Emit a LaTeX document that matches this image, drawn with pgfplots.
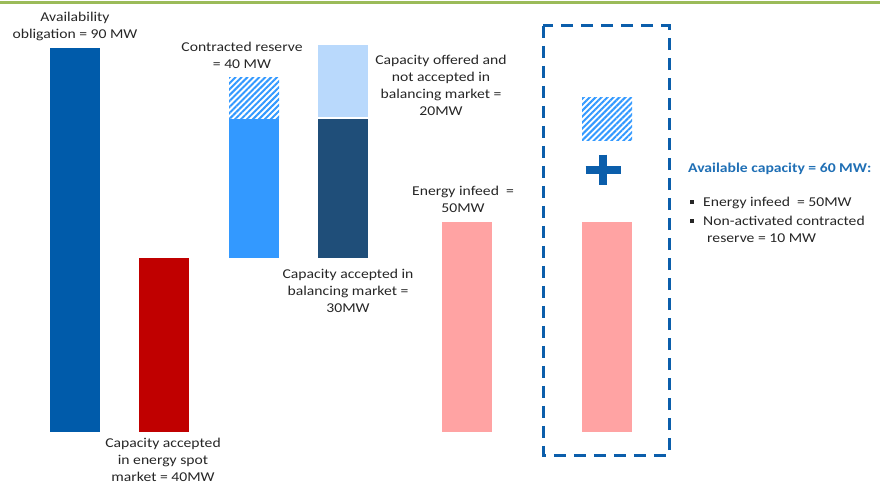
\documentclass[border=0pt]{standalone}
\usepackage{pgfplots}
\pgfplotsset{compat=1.18}
\usetikzlibrary{patterns.meta}
\usepackage{fontspec}
\setmainfont{Carlito}[FakeStretch=1.16]
\definecolor{obl}{HTML}{005BAA}
\definecolor{spot}{HTML}{C00000}
\definecolor{resblue}{HTML}{3399FF}
\definecolor{offlight}{HTML}{B9D9FC}
\definecolor{accdark}{HTML}{1F4E79}
\definecolor{infeed}{HTML}{FFA3A3}
\definecolor{boxblue}{HTML}{0B5EAB}
\definecolor{txtblue}{HTML}{1F6FB5}
\definecolor{topgreen}{HTML}{9BBB59}
\definecolor{txt}{HTML}{262626}
\tikzset{
  hatch/.style={pattern={Lines[angle=45,distance=4.2pt,line width=2pt]}, pattern color=resblue},
  lbl/.style={font=\fontsize{13.5}{17}\selectfont, text=txt, align=center, inner sep=0pt},
}
\begin{document}
\begin{tikzpicture}
\begin{axis}[
  width=880pt, height=485pt, scale only axis,
  xmin=0, xmax=880, ymin=-12.42, ymax=101.25,
  hide axis, clip=false,
  every axis plot/.append style={draw=none, mark=none},
]
% top green rule
\fill[topgreen] (axis cs:0,101.0) rectangle (axis cs:880,100.2);
% Availability obligation = 90 MW
\addplot[fill=obl] coordinates {(50,0) (100,0) (100,90) (50,90)};
% Capacity accepted in energy spot market = 40 MW
\addplot[fill=spot] coordinates {(139,0) (189,0) (189,40.8) (139,40.8)};
% Contracted reserve = 40 MW (solid part + non-activated hatched part)
\addplot[fill=resblue] coordinates {(229,40.8) (279,40.8) (279,73.4) (229,73.4)};
\addplot[hatch] coordinates {(229,73.4) (279,73.4) (279,83.2) (229,83.2)};
% Capacity accepted in balancing market = 30 MW
\addplot[fill=accdark] coordinates {(318,40.8) (368,40.8) (368,73.4) (318,73.4)};
% Capacity offered and not accepted = 20 MW
\addplot[fill=offlight] coordinates {(318,73.8) (368,73.8) (368,90.7) (318,90.7)};
% Energy infeed = 50 MW
\addplot[fill=infeed] coordinates {(442,0) (492,0) (492,49.2) (442,49.2)};
% Available capacity: hatched reserve + energy infeed
\addplot[hatch] coordinates {(582,68.4) (632,68.4) (632,78.3) (582,78.3)};
\addplot[fill=infeed] coordinates {(582,0) (632,0) (632,49.2) (582,49.2)};
% plus sign
\draw[boxblue, line width=8pt] (axis cs:585.5,61.41) -- (axis cs:620.5,61.41);
\draw[boxblue, line width=8pt] (axis cs:603,65.0) -- (axis cs:603,57.8);
% dashed box
\draw[boxblue, line width=3pt, dash pattern=on 12pt off 8pt] (axis cs:543,95.16) rectangle (axis cs:669,-5.39);
% labels
\node[lbl] at (axis cs:75,95.16) {Availability\\obligation = 90 MW};
\node[lbl] at (axis cs:242,88.36) {Contracted reserve\\= 40 MW};
\node[lbl] at (axis cs:441,81.33) {Capacity offered and\\not accepted in\\balancing market =\\20MW};
\node[lbl] at (axis cs:348,33.05) {Capacity accepted in\\balancing market =\\30MW};
\node[lbl] at (axis cs:463,54.49) {Energy infeed~~=\\50MW};
\node[lbl] at (axis cs:163,-6.45) {Capacity accepted\\in energy spot\\market = 40MW};
\node[lbl, anchor=west, text=txtblue, font=\fontsize{13.5}{17}\selectfont\bfseries] at (axis cs:688,61.64) {Available capacity = 60 MW:};
\node[lbl, anchor=west] at (axis cs:690,53.67) {\rule[2.5pt]{4pt}{4pt}\hspace{9pt}Energy infeed~~= 50MW};
\node[lbl, anchor=west] at (axis cs:690,49.45) {\rule[2.5pt]{4pt}{4pt}\hspace{9pt}Non-activated contracted};
\node[lbl, anchor=west] at (axis cs:707,45.47) {reserve = 10 MW};
\end{axis}
\pgfresetboundingbox
\path[use as bounding box] (current axis.south west) rectangle (current axis.north east);
\end{tikzpicture}
\end{document}
